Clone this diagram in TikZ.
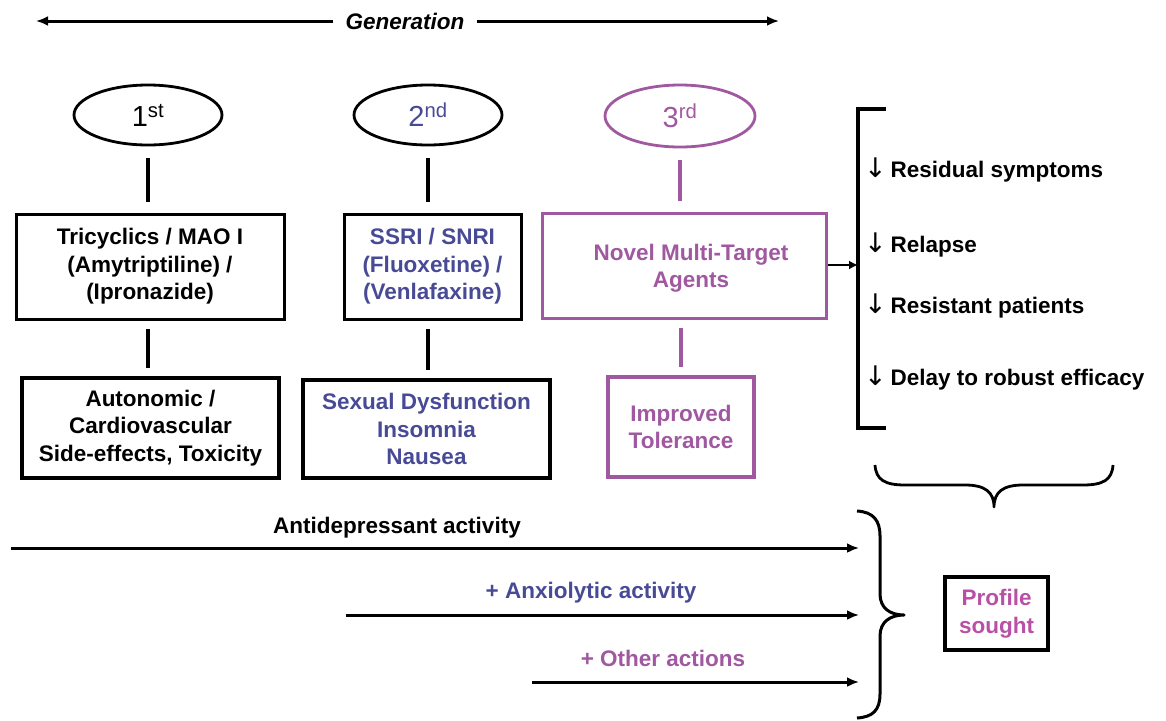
\documentclass[tikz,border=0pt]{standalone}
\usepackage{fontspec}
\setmainfont{Liberation Sans}
\newfontfamily\arrfont{DejaVu Sans}
\usetikzlibrary{shapes.geometric,arrows.meta}
\definecolor{bl}{RGB}{72,74,150}
\definecolor{pu}{RGB}{160,88,160}
\definecolor{pk}{RGB}{185,80,165}
\begin{document}
\begin{tikzpicture}[x=1pt,y=-1pt,
  txt/.style={font=\fontsize{22.5}{27.5}\selectfont\bfseries, align=center, inner sep=0pt},
  ell/.style={ellipse, draw, line width=2.8pt, minimum width=148pt, minimum height=60pt, inner sep=0pt,
              font=\fontsize{29}{30}\selectfont},
  topbox/.style={txt, draw, line width=3pt},
  botbox/.style={txt, draw, line width=4.2pt},
  conn/.style={line width=3.4pt, shorten <=12pt, shorten >=11pt},
  conn2/.style={line width=3.4pt, shorten <=8pt, shorten >=8pt},
  arr/.style={line width=3pt, -{Latex[length=12pt,width=10pt]}},
  brk/.style={line width=3.6pt},
  item/.style={txt, anchor=west},
  dn/.style={}
]
\useasboundingbox (0,0) rectangle (1166,720);

% generation arrow
\node[font=\fontsize{22.5}{27.5}\selectfont\bfseries\itshape, inner sep=0pt] (gen) at (405,21) {Generation};
\coordinate (gL) at (36,21);
\coordinate (gR) at (779,21);
\draw[arr, shorten <=12pt] (gen.west) -- (gL);
\draw[arr, shorten <=12pt] (gen.east) -- (gR);

% ellipses
\node[ell] (e1) at (148,115) {1\textsuperscript{st}};
\node[ell, text=bl] (e2) at (428,115) {2\textsuperscript{nd}};
\node[ell, draw=pu, text=pu, minimum width=150pt, minimum height=62pt] (e3) at (680,116) {3\textsuperscript{rd}};

% top boxes
\node[topbox, minimum width=268pt, minimum height=105pt] (b1) at (150,266.5)
  {Tricyclics / MAO I\\(Amytriptiline) /\\(Ipronazide)};
\node[topbox, text=bl, minimum width=177pt, minimum height=105pt] (b2) at (432.5,266.5)
  {SSRI / SNRI\\(Fluoxetine) /\\(Venlafaxine)};
\node[topbox, draw=pu, minimum width=284pt, minimum height=105pt] (b3) at (684,265.5) {};
\node[txt, text=pu] (b3t) at (691,268) {Novel Multi-Target\\Agents};

% bottom boxes
\node[botbox, minimum width=257pt, minimum height=100pt] (c1) at (150.5,428)
  {Autonomic /\\Cardiovascular\\Side-effects, Toxicity};
\node[botbox, text=bl, minimum width=247pt, minimum height=98pt] (c2) at (426.5,429)
  {Sexual Dysfunction\\Insomnia\\Nausea};
\node[topbox, draw=pu, text=pu, line width=3.6pt, minimum width=146pt, minimum height=100pt] (c3) at (681,427)
  {Improved\\Tolerance};

% connectors
\draw[conn] (e1.south) -- (e1.south |- b1.north);
\draw[conn] (e2.south) -- (e2.south |- b2.north);
\draw[conn, draw=pu] (e3.south) -- (e3.south |- b3.north);
\draw[conn2] (e1.south |- b1.south) -- (e1.south |- c1.north);
\draw[conn2] (e2.south |- b2.south) -- (e2.south |- c2.north);
\draw[conn2, draw=pu] (c3.north |- b3.south) -- (c3.north);

% bracket with outcomes
\coordinate (brT) at (858,109);
\coordinate (brB) at (858,428);
\coordinate (brM) at (858,265);
\draw[brk] (886,109) -- (brT) -- (brB) -- (886,428);
\draw[line width=2.6pt, -{Latex[length=9pt,width=9pt]}] (b3.east |- brM) -- (brM);
\node[item] (r1) at (864,170) {{\arrfont\mdseries\fontsize{27}{27}\selectfont\char"2193}\,Residual symptoms};
\node[item] (r2) at (864,245) {{\arrfont\mdseries\fontsize{27}{27}\selectfont\char"2193}\,Relapse};
\node[item] (r3) at (864,306) {{\arrfont\mdseries\fontsize{27}{27}\selectfont\char"2193}\,Resistant patients};
\node[item] (r4) at (864,378) {{\arrfont\mdseries\fontsize{27}{27}\selectfont\char"2193}\,Delay to robust efficacy};

% horizontal brace
\draw[line width=2.8pt, line join=round]
  (875,465) .. controls (876,480) and (885,485) .. (905,485) -- (965,485)
  .. controls (985,485) and (994,492) .. (994,507)
  .. controls (994,492) and (1003,485) .. (1023,485) -- (1083,485)
  .. controls (1103,485) and (1112,480) .. (1113,465);

% bottom arrows
\coordinate (a1s) at (11,548);   \coordinate (a1e) at (859,548);
\coordinate (a2s) at (346,615);  \coordinate (a2e) at (859,615);
\coordinate (a3s) at (532,682);  \coordinate (a3e) at (859,682);
\draw[arr] (a1s) -- (a1e);
\draw[arr] (a2s) -- (a2e);
\draw[arr] (a3s) -- (a3e);
\node[txt] (t1) at (397,528) {Antidepressant activity};
\node[txt, text=bl] (t2) at (591,593) {+ Anxiolytic activity};
\node[txt, text=pu] (t3) at (663,658) {+ Other actions};

% right curly brace
\draw[line width=3pt, line join=round]
  (857,511) .. controls (873,512) and (880,520) .. (880,536) -- (880,594)
  .. controls (880,608) and (890,615) .. (904,615)
  .. controls (890,615) and (880,622) .. (880,636) -- (880,694)
  .. controls (880,710) and (873,717) .. (857,718);

% profile sought
\node[txt, draw, line width=4.4pt, text=pk, minimum width=103pt, minimum height=73pt] (ps) at (996.5,613.5)
  {Profile\\sought};
\end{tikzpicture}
\end{document}
